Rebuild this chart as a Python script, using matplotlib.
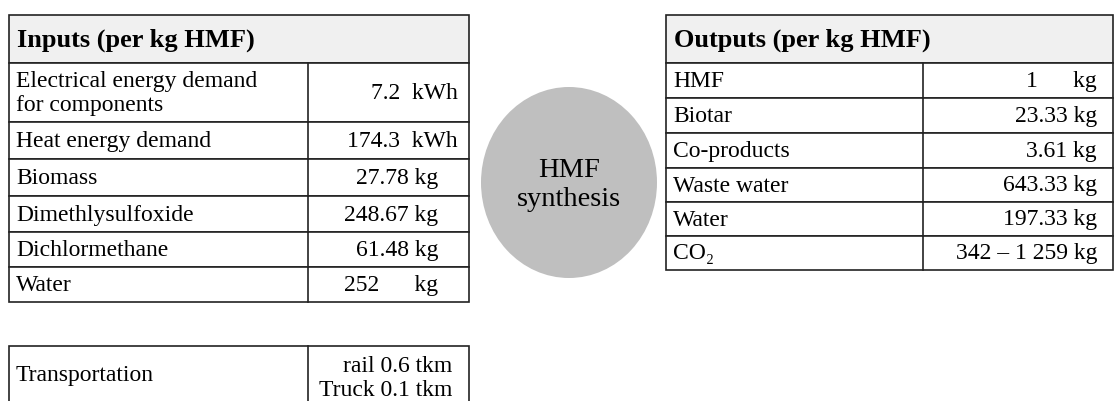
import matplotlib
matplotlib.use("Agg")
import matplotlib.pyplot as plt
from matplotlib.patches import Rectangle, Ellipse

# ---- data ----
input_title = "Inputs (per kg HMF)"
input_labels = ["Electrical energy demand\nfor components", "Heat energy demand", "Biomass",
                "Dimethlysulfoxide", "Dichlormethane", "Water"]
input_values = ["7.2  kWh", "174.3  kWh", "27.78 kg", "248.67 kg", "61.48 kg", "252      kg"]

output_title = "Outputs (per kg HMF)"
output_labels = ["HMF", "Biotar", "Co-products", "Waste water", "Water", "CO\u2082"]
output_values = ["1      kg", "23.33 kg", "3.61 kg", "643.33 kg", "197.33 kg", "342 \u2013 1 259 kg"]

process_label = "HMF\nsynthesis"
transport_label = "Transportation"
transport_values = ["rail 0.6 tkm", "Truck 0.1 tkm"]

# ---- layout ----
W, H = 1115, 401
fig = plt.figure(figsize=(W / 100, H / 100), dpi=100)
ax = fig.add_axes([0, 0, 1, 1])
ax.set_xlim(0, W)
ax.set_ylim(H, 0)
ax.axis("off")

FONT = ["Liberation Serif", "DejaVu Serif"]
FS = 17
HFS = 19
LC = "#222222"
LW = 1.2
HEAD_BG = "#f0f0f0"


def draw_table(x0, x1, xdiv, y_top, head_bottom, row_lines, title, labels, values, val_right):
    ax.add_patch(Rectangle((x0, y_top), x1 - x0, head_bottom - y_top, facecolor=HEAD_BG,
                           edgecolor=LC, lw=LW))
    ax.text(x0 + 8, (y_top + head_bottom) / 2 + 1, title, fontsize=HFS, fontweight="bold",
            family=FONT, ha="left", va="center")
    ys = [head_bottom] + row_lines
    for i, (lab, val) in enumerate(zip(labels, values)):
        ya, yb = ys[i], ys[i + 1]
        ax.add_patch(Rectangle((x0, ya), x1 - x0, yb - ya, facecolor="white", edgecolor=LC, lw=LW))
        ax.plot([xdiv, xdiv], [ya, yb], color=LC, lw=LW)
        yc = (ya + yb) / 2 + 1
        ax.text(x0 + 7, yc, lab, fontsize=FS, family=FONT, ha="left", va="center",
                linespacing=1.15)
        ax.text(val_right[i], yc, val, fontsize=FS, family=FONT, ha="right", va="center")


draw_table(9, 469, 308, 15, 63, [122, 159, 196, 232, 267, 302], input_title,
           input_labels, input_values, [458, 458, 438, 438, 438, 438])
draw_table(666, 1113, 923, 15, 63, [98, 133, 168, 202, 236, 270], output_title,
           output_labels, output_values, [1097] * 6)

# process ellipse
ax.add_patch(Ellipse((569, 182.5), 176, 191, facecolor="#bfbfbf", edgecolor="none"))
ax.text(569, 185, process_label, fontsize=20.5, family=FONT, ha="center", va="center",
        linespacing=1.2)

# transportation table
ax.add_patch(Rectangle((9, 346), 460, 70, facecolor="white", edgecolor=LC, lw=LW))
ax.plot([308, 308], [346, 416], color=LC, lw=LW)
ax.text(16, 376, transport_label, fontsize=FS, family=FONT, ha="left", va="center")
ax.text(452, 367, transport_values[0], fontsize=FS, family=FONT, ha="right", va="center")
ax.text(452, 390, transport_values[1], fontsize=FS, family=FONT, ha="right", va="center")

fig.savefig("out.png", dpi=100)
